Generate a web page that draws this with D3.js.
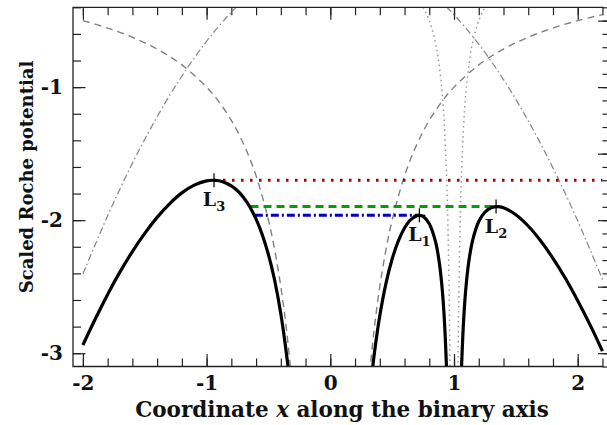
<!DOCTYPE html>
<html>
<head>
<meta charset="utf-8">
<script src="https://cdn.jsdelivr.net/npm/d3@7"></script>
<style>
  body { margin: 0; background: #fff; }
  svg { display: block; overflow: hidden; }
  text { font-family: "DejaVu Serif", serif; font-weight: bold; fill: #111; }
</style>
</head>
<body>
<svg id="chart" width="607" height="425"></svg>
<script>
// total Roche potential, three branches
const leftX  = [-2.0, -1.9, -1.8, -1.7, -1.6, -1.5, -1.4, -1.3, -1.2, -1.1, -1.0, -0.95, -0.9, -0.85, -0.8, -0.75, -0.7, -0.65, -0.6, -0.55, -0.5, -0.45, -0.4, -0.35, -0.33]
const leftY  = [-2.938, -2.743, -2.558, -2.389, -2.236, -2.099, -1.979, -1.877, -1.795, -1.737, -1.705, -1.700, -1.704, -1.718, -1.742, -1.779, -1.831, -1.901, -1.992, -2.109, -2.259, -2.452, -2.704, -3.038, -3.203]
const midX   = [0.32, 0.34, 0.36, 0.4, 0.45, 0.5, 0.55, 0.6, 0.65, 0.7, 0.72, 0.75, 0.8, 0.85, 0.88, 0.9, 0.92, 0.94, 0.95]
const midY   = [-3.301, -3.127, -2.974, -2.719, -2.475, -2.292, -2.156, -2.059, -1.996, -1.966, -1.964, -1.972, -2.027, -2.160, -2.312, -2.471, -2.715, -3.127, -3.459]
const rightX = [1.05, 1.06, 1.08, 1.1, 1.12, 1.15, 1.2, 1.25, 1.3, 1.35, 1.4, 1.5, 1.6, 1.7, 1.8, 1.9, 2.0, 2.1, 2.2]
const rightY = [-3.458, -3.127, -2.714, -2.469, -2.309, -2.153, -2.010, -1.939, -1.907, -1.898, -1.907, -1.959, -2.044, -2.155, -2.287, -2.437, -2.605, -2.787, -2.984]

// primary term (dashed)
const primLeftX  = [-2.0, -1.8, -1.6, -1.4, -1.2, -1.0, -0.9, -0.8, -0.7, -0.6, -0.5, -0.45, -0.4, -0.35, -0.3]
const primLeftY  = [-0.5, -0.556, -0.625, -0.714, -0.833, -1.0, -1.111, -1.25, -1.429, -1.667, -2.0, -2.222, -2.5, -2.857, -3.333]
const primRightX = [0.3, 0.35, 0.4, 0.45, 0.5, 0.6, 0.7, 0.8, 0.9, 1.0, 1.2, 1.4, 1.6, 1.8, 2.0, 2.2]
const primRightY = [-3.333, -2.857, -2.5, -2.222, -2.0, -1.667, -1.429, -1.25, -1.111, -1.0, -0.833, -0.714, -0.625, -0.556, -0.5, -0.455]

// secondary term (dotted)
const secLeftX  = [0.75, 0.77, 0.8, 0.82, 0.85, 0.87, 0.9, 0.92, 0.94, 0.95, 0.96, 0.965, 0.97]
const secLeftY  = [-0.4, -0.435, -0.5, -0.556, -0.667, -0.769, -1.0, -1.25, -1.667, -2.0, -2.5, -2.857, -3.333]
const secRightX = [1.03, 1.035, 1.04, 1.05, 1.06, 1.08, 1.1, 1.13, 1.15, 1.18, 1.2, 1.23, 1.25]
const secRightY = [-3.333, -2.857, -2.5, -2.0, -1.667, -1.25, -1.0, -0.769, -0.667, -0.556, -0.5, -0.435, -0.4]

// centrifugal term (dash-dot)
const centX = [-2.0, -1.8, -1.6, -1.4, -1.2, -1.0, -0.8, -0.6, -0.4, -0.2, 0.0, 0.2, 0.4, 0.6, 0.8, 1.0, 1.2, 1.4, 1.6, 1.8, 2.0, 2.2]
const centY = [-2.405, -1.967, -1.573, -1.223, -0.917, -0.655, -0.437, -0.263, -0.133, -0.047, -0.005, -0.007, -0.053, -0.143, -0.277, -0.455, -0.677, -0.943, -1.253, -1.607, -2.005, -2.446]

// Lagrange points and the levels drawn through them
const lagNames = ['L1', 'L2', 'L3']
const lagX = [0.72, 1.34, -0.94]
const lagY = [-1.964, -1.898, -1.700]
const levelStart = [-0.61, -0.645, -0.94]
const levelEnd   = [0.72, 1.34, 2.2]

const xTicks = [-2, -1, 0, 1, 2]
const yTicks = [-3, -2, -1]

const W = 607, H = 425
const m = {left: 73, top: 7.3, right: 610.5, bottom: 366.5}

const x = d3.scaleLinear().domain([-2.08, 2.265]).range([m.left, m.right])
const y = d3.scaleLinear().domain([-3.1, -0.4]).range([m.bottom, m.top])

const svg = d3.select('#chart')

svg.append('defs').append('clipPath').attr('id', 'clip')
  .append('rect')
  .attr('x', m.left).attr('y', m.top)
  .attr('width', m.right - m.left).attr('height', m.bottom - m.top)

const plot = svg.append('g').attr('clip-path', 'url(#clip)')

const zip = (xs, ys) => xs.map((v, i) => [v, ys[i]])
const line = d3.line()
  .x(d => x(d[0]))
  .y(d => y(d[1]))
  .curve(d3.curveCatmullRom.alpha(0.5))

function draw(xs, ys, stroke, width, dash) {
  plot.append('path')
    .datum(zip(xs, ys))
    .attr('d', line)
    .attr('fill', 'none')
    .attr('stroke', stroke)
    .attr('stroke-width', width)
    .attr('stroke-dasharray', dash)
}

draw(centX, centY, '#8c8c8c', 1.3, '7,3,1.5,3')
draw(primLeftX, primLeftY, '#808080', 1.4, '7,5')
draw(primRightX, primRightY, '#808080', 1.4, '7,5')
draw(secLeftX, secLeftY, '#999', 1.5, '1.5,3.5')
draw(secRightX, secRightY, '#999', 1.5, '1.5,3.5')

// horizontal levels
const levelStyle = [
  {stroke: '#0000cc', dash: '8,3,2,3'},
  {stroke: '#00a000', dash: '8,5'},
  {stroke: '#a00000', dash: '2.5,6.5'}
]
lagNames.forEach((n, i) => {
  plot.append('line')
    .attr('x1', x(levelStart[i])).attr('x2', x(levelEnd[i]))
    .attr('y1', y(lagY[i])).attr('y2', y(lagY[i]))
    .attr('stroke', levelStyle[i].stroke)
    .attr('stroke-width', 3)
    .attr('stroke-dasharray', levelStyle[i].dash)
})

draw(leftX, leftY, '#000', 3.2, null)
draw(midX, midY, '#000', 3.2, null)
draw(rightX, rightY, '#000', 3.2, null)

// crosses at the Lagrange points
lagNames.forEach((n, i) => {
  const cx = x(lagX[i]), cy = y(lagY[i])
  plot.append('path')
    .attr('d', `M${cx - 6},${cy}H${cx + 6}M${cx},${cy - 7}V${cy + 7}`)
    .attr('stroke', '#000').attr('stroke-width', 1.2)
  const t = svg.append('text')
    .attr('x', cx).attr('y', cy + 26)
    .attr('text-anchor', 'middle')
    .style('font-size', '19px')
  t.append('tspan').text('L')
  t.append('tspan').attr('dy', 5).style('font-size', '13px').text(n.slice(1))
})

// axes: ticks pointing inward on all four sides
const axisColor = '#222'
function styleAxis(g) {
  g.select('.domain').remove()
  g.selectAll('line').attr('stroke', axisColor).attr('stroke-width', 1.2)
  g.selectAll('text').style('font-size', '20px').attr('fill', '#111')
}
const plain = d => String(d)

const xMinor = d3.range(-2, 2.21, 0.2)
svg.append('g').attr('transform', `translate(0,${m.bottom})`)
  .call(d3.axisBottom(x).tickValues(xMinor).tickSize(-8).tickFormat(''))
  .call(styleAxis)
svg.append('g').attr('transform', `translate(0,${m.bottom})`)
  .call(d3.axisBottom(x).tickValues(xTicks).tickSize(-12.5).tickPadding(9).tickFormat(plain))
  .call(styleAxis)
svg.append('g').attr('transform', `translate(0,${m.top})`)
  .call(d3.axisTop(x).tickValues(xMinor).tickSize(-8).tickFormat(''))
  .call(styleAxis)
svg.append('g').attr('transform', `translate(0,${m.top})`)
  .call(d3.axisTop(x).tickValues(xTicks).tickSize(-12.5).tickFormat(''))
  .call(styleAxis)

const yMinorL = d3.range(-3, -0.39, 0.2)
svg.append('g').attr('transform', `translate(${m.left},0)`)
  .call(d3.axisLeft(y).tickValues(yMinorL).tickSize(-8).tickFormat(''))
  .call(styleAxis)
svg.append('g').attr('transform', `translate(${m.left},0)`)
  .call(d3.axisLeft(y).tickValues(yTicks).tickSize(-12.5).tickPadding(10).tickFormat(plain))
  .call(styleAxis)

const yMinorR = d3.range(-3.1, -0.39, 0.1)
const yMajorR = [-3, -2.5, -2, -1.5, -1, -0.5]
svg.append('g').attr('transform', `translate(${m.right},0)`)
  .call(d3.axisRight(y).tickValues(yMinorR).tickSize(-8).tickFormat(''))
  .call(styleAxis)
svg.append('g').attr('transform', `translate(${m.right},0)`)
  .call(d3.axisRight(y).tickValues(yMajorR).tickSize(-12.5).tickFormat(''))
  .call(styleAxis)

// frame
const frameRight = x(2.2) + 1
svg.append('path')
  .attr('d', `M${frameRight},${m.top}H${m.left}V${m.bottom}H${frameRight}`)
  .attr('fill', 'none').attr('stroke', axisColor).attr('stroke-width', 1.3)

// axis titles
const xt = svg.append('text')
  .attr('x', 342).attr('y', 417)
  .attr('text-anchor', 'middle')
  .style('font-size', '21.5px')
xt.append('tspan').text('Coordinate ')
xt.append('tspan').style('font-style', 'italic').text('x')
xt.append('tspan').text(' along the binary axis')

svg.append('text')
  .attr('transform', 'translate(33,177) rotate(-90)')
  .attr('text-anchor', 'middle')
  .style('font-size', '18px')
  .text('Scaled Roche potential')
</script>
</body>
</html>
